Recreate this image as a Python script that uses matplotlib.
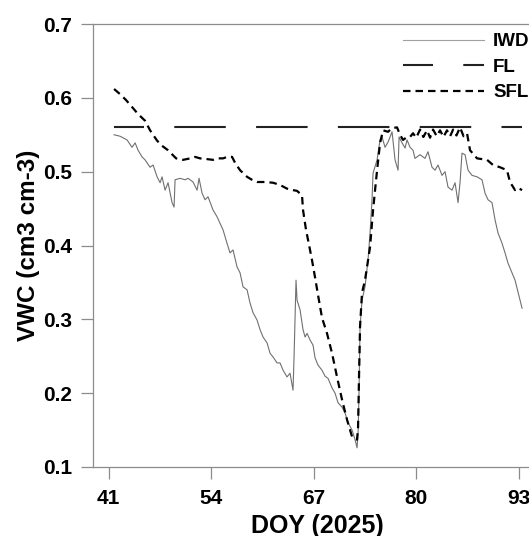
import matplotlib
matplotlib.use("Agg")
from matplotlib import pyplot as plt

plt.rcParams['font.family'] = ['Liberation Sans', 'DejaVu Sans']
plt.rcParams['font.weight'] = 'bold'
plt.rcParams['lines.scale_dashes'] = False

# IWD series (thin grey line)
iwd_doy = [41.67, 42.43, 43.32, 43.95, 44.34, 44.72, 45.22, 45.60, 46.24, 46.62,
           47.13, 47.51, 47.76, 48.14, 48.52, 49.03, 49.28, 49.41, 50.04, 50.68,
           51.06, 51.69, 52.20, 52.45, 52.83, 53.21, 53.59, 54.23, 54.73, 55.12,
           55.50, 56.00, 56.38, 56.76, 57.27, 57.65, 58.03, 58.54, 58.92, 59.30,
           59.81, 60.19, 60.57, 61.08, 61.46, 61.84, 62.34, 62.72, 63.11, 63.61,
           63.99, 64.37, 64.50, 64.75, 64.88, 65.26, 65.64, 65.90, 66.15, 66.53,
           66.91, 67.16, 67.54, 68.05, 68.43, 68.81, 69.32, 69.70, 70.08, 70.59,
           70.97, 71.35, 71.86, 72.24, 72.49, 72.62, 72.74, 72.87, 73.12, 73.50,
           73.88, 74.14, 74.39, 74.52, 75.03, 75.41, 75.66, 76.04, 76.42, 76.93,
           77.31, 77.69, 77.82, 78.20, 78.58, 78.83, 79.21, 79.59, 79.84, 80.48,
           81.11, 81.49, 82.00, 82.38, 82.76, 83.27, 83.65, 84.03, 84.54, 84.92,
           85.30, 85.55, 85.80, 86.19, 86.57, 87.07, 87.71, 88.34, 88.72, 89.10,
           89.61, 89.99, 90.37, 90.88, 91.26, 91.64, 92.15, 92.53, 92.91, 93.42]
iwd_vwc = [0.550, 0.548, 0.543, 0.533, 0.539, 0.529, 0.520, 0.516, 0.506, 0.509,
           0.493, 0.485, 0.493, 0.475, 0.485, 0.458, 0.452, 0.489, 0.491, 0.489,
           0.491, 0.486, 0.475, 0.491, 0.471, 0.462, 0.466, 0.448, 0.439, 0.430,
           0.421, 0.403, 0.390, 0.394, 0.371, 0.363, 0.344, 0.340, 0.322, 0.309,
           0.299, 0.286, 0.276, 0.268, 0.254, 0.249, 0.241, 0.241, 0.231, 0.222,
           0.227, 0.204, 0.249, 0.353, 0.326, 0.313, 0.286, 0.276, 0.281, 0.272,
           0.265, 0.248, 0.238, 0.231, 0.223, 0.220, 0.207, 0.200, 0.187, 0.181,
           0.173, 0.160, 0.150, 0.137, 0.126, 0.146, 0.200, 0.290, 0.326, 0.344,
           0.380, 0.417, 0.462, 0.498, 0.516, 0.543, 0.547, 0.533, 0.540, 0.554,
           0.516, 0.502, 0.547, 0.539, 0.532, 0.543, 0.533, 0.529, 0.518, 0.523,
           0.518, 0.527, 0.506, 0.502, 0.509, 0.495, 0.500, 0.479, 0.475, 0.485,
           0.458, 0.485, 0.525, 0.523, 0.502, 0.495, 0.493, 0.489, 0.471, 0.462,
           0.458, 0.435, 0.417, 0.403, 0.390, 0.376, 0.363, 0.353, 0.337, 0.315]

# FL series (long dashes, constant level)
fl_doy = [41.67, 93.42]
fl_vwc = [0.560, 0.560]

# SFL series (short dashes)
sfl_doy = [41.67, 42.43, 43.19, 44.08, 44.72, 45.60, 46.24, 47.13, 47.76, 48.52,
           49.54, 50.42, 51.31, 51.94, 52.58, 53.47, 54.23, 54.73, 55.50, 56.00,
           56.64, 57.02, 57.65, 58.54, 59.17, 59.81, 60.82, 61.84, 62.72, 63.61,
           64.37, 64.88, 65.51, 65.64, 66.02, 66.40, 66.78, 67.16, 67.54, 68.05,
           68.68, 69.32, 69.95, 70.59, 71.22, 71.86, 72.49, 72.62, 72.74, 72.87,
           73.12, 73.50, 74.14, 74.52, 75.03, 75.41, 75.79, 76.42, 76.93, 77.56,
           77.94, 78.32, 78.83, 79.21, 79.59, 80.00, 80.48, 80.90, 81.37, 81.75,
           82.13, 82.60, 83.02, 83.45, 83.90, 84.30, 84.67, 85.10, 85.55, 86.00,
           86.44, 86.82, 87.71, 88.98, 89.74, 90.62, 91.51, 91.89, 92.53, 92.91,
           93.42]
sfl_vwc = [0.612, 0.605, 0.597, 0.586, 0.578, 0.569, 0.556, 0.542, 0.535, 0.529,
           0.518, 0.516, 0.518, 0.520, 0.518, 0.517, 0.516, 0.518, 0.518, 0.520,
           0.520, 0.512, 0.502, 0.493, 0.489, 0.486, 0.486, 0.485, 0.482, 0.477,
           0.475, 0.474, 0.468, 0.448, 0.421, 0.401, 0.380, 0.357, 0.333, 0.302,
           0.281, 0.254, 0.222, 0.191, 0.164, 0.141, 0.137, 0.154, 0.222, 0.290,
           0.336, 0.353, 0.398, 0.448, 0.502, 0.539, 0.556, 0.554, 0.559, 0.560,
           0.550, 0.543, 0.547, 0.547, 0.552, 0.546, 0.557, 0.547, 0.556, 0.546,
           0.557, 0.548, 0.556, 0.547, 0.556, 0.548, 0.557, 0.549, 0.560, 0.548,
           0.552, 0.529, 0.518, 0.516, 0.509, 0.506, 0.502, 0.486, 0.475, 0.478,
           0.475]

x_ticks = [41, 54, 67, 80, 93]
y_ticks = [0.1, 0.2, 0.3, 0.4, 0.5, 0.6, 0.7]

fig = plt.figure(figsize=(5.29, 5.36), dpi=100)
ax = fig.add_axes([93 / 529, 1 - 467 / 536, 1 - 93 / 529, (467 - 24) / 536])

ax.plot(iwd_doy, iwd_vwc, color='#707070', lw=0.8, label='IWD')
ax.plot(fl_doy, fl_vwc, color='#222222', lw=1.5, linestyle=(15.5, (37.1, 21.8)), label='FL')
ax.plot(sfl_doy, sfl_vwc, color='black', lw=1.6, linestyle=(0, (5.4, 3.6)), label='SFL')

ax.set_xlim(39.0, 94.3)
ax.set_ylim(0.1, 0.7)
ax.set_xticks(x_ticks)
ax.set_yticks(y_ticks)
ax.set_yticklabels([f'{v:.1f}' for v in y_ticks])

spine_col = '#8c8c8c'
for side in ['left', 'top', 'bottom']:
    ax.spines[side].set_color(spine_col)
    ax.spines[side].set_linewidth(0.9)
ax.spines['right'].set_visible(False)
ax.tick_params(axis='both', direction='out', length=8.6, width=0.9, color=spine_col,
               labelsize=15, pad=6.5)
ax.tick_params(axis='x', pad=7)

ax.set_xlabel('DOY (2025)', fontsize=18, fontweight='bold')
ax.set_ylabel('VWC (cm3 cm-3)', fontsize=17.5, fontweight='bold')
ax.xaxis.set_label_coords(0.514, -0.105)
ax.yaxis.set_label_coords(-0.122, 0.5)

leg = ax.legend(loc='upper left', bbox_to_anchor=(403 / 529, 1 - 33 / 536),
                bbox_transform=fig.transFigure, frameon=False, fontsize=13.5,
                handlelength=4.3, handletextpad=0.5, borderpad=0, borderaxespad=0,
                labelspacing=0.45)
leg.get_lines()[0].set_color('#a0a0a0')

fig.savefig('out.png', dpi=100)
